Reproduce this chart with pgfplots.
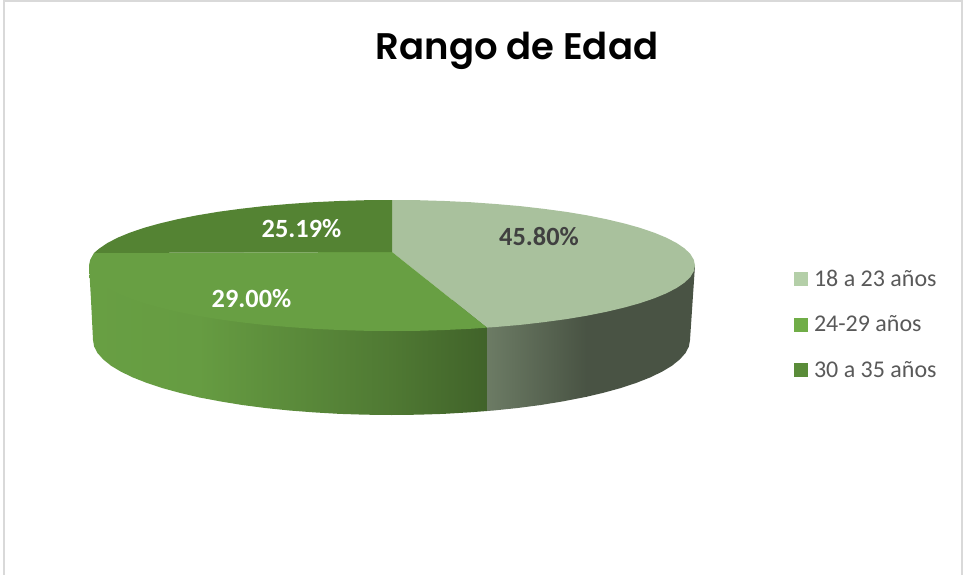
\documentclass[border=0pt]{standalone}
\usepackage{fontspec}
\setmainfont{Carlito}
\newfontfamily\titlefont{Poppins SemiBold}
\usepackage{pgfplots}
\pgfplotsset{compat=1.18}
\definecolor{lighttop}{HTML}{A9C19D}
\definecolor{midtop}{HTML}{689F43}
\definecolor{darktop}{HTML}{548333}
\definecolor{leglight}{HTML}{B4CFA8}
\definecolor{legmid}{HTML}{70AD47}
\definecolor{legdark}{HTML}{5A8C39}
\definecolor{framegray}{HTML}{D9D9D9}

\begin{document}
\begin{tikzpicture}
\begin{axis}[
  scale only axis, width=963pt, height=575pt,
  xmin=0, xmax=963, ymin=0, ymax=575, y dir=reverse,
  axis lines=none, clip=true,
  legend cell align=left,
  legend image code/.code={\fill[#1, draw=none] (0pt,-7pt) rectangle (14pt,7pt); \path[draw=none, fill=none] (0pt,0pt) -- (20pt,0pt);},
  legend style={at={(axis cs:794,270)}, anchor=north west, draw=none, fill=none,
    font=\fontsize{24}{26}\selectfont, text=black!65, row sep=28pt,
    inner sep=0pt, outer sep=0pt,
    nodes={inner sep=0pt, anchor=west}},
]
% chart frame (no line along the bottom)
\addplot[framegray, line width=2pt, forget plot] coordinates {(3.5,575) (3.5,1.5) (962,1.5) (962,575)};

% side walls, lying under the top faces
\addplot[draw=none, shade, left color=black!0!midtop, right color=black!2!midtop, forget plot] coordinates {
  (89,265.5) (91,300) (93,340) (94.1,346.5) (97.5,353) (103.2,359.4) (111,365.7) (121,371.7) (133,377.5)
  (147,383) (162.8,388.2) (180.4,393) (200,397.6) (200,300)};
\addplot[draw=none, shade, left color=black!2!midtop, right color=black!24!midtop, forget plot] coordinates {
  (199.6,397.5) (220.3,401.4) (242.2,405) (265.3,408) (289.4,410.5) (314.2,412.4) (339.7,413.9) (365.5,414.7)
  (392,415) (392,300) (199.6,300)};
\addplot[draw=none, shade, left color=black!24!midtop, right color=black!38!midtop, forget plot] coordinates {
  (391.5,415) (417.5,414.7) (443.3,413.9) (468.8,412.4) (487,411) (487,300) (391.5,300)};
\addplot[draw=none, shade, left color=lighttop!64!black, right color=lighttop!43!black, forget plot] coordinates {
  (487,411) (493.6,410.5) (517.7,408) (540.8,405) (562.7,401.4) (587,396.7) (587,300) (487,300)};
\addplot[draw=none, fill=lighttop!43!black, forget plot] coordinates {
  (586.8,396.7) (602.6,393) (620.2,388.2) (636,383) (650,377.5) (662,371.7) (672,365.7) (679.8,359.4) (685.5,353)
  (688.9,346.5) (690,340) (695,265.5) (586.8,265.5)};

% top faces
\addplot[draw=none, fill=lighttop, forget plot] coordinates {
  (392,252) (392,200) (418.4,200.2) (444.6,201) (470.4,202.2) (495.6,204) (520.1,206.1) (543.5,208.8) (565.8,211.8)
  (586.8,215.3) (606.3,219.2) (624.1,223.4) (640.2,227.9) (654.4,232.75) (666.6,237.8) (676.7,243.1) (684.7,248.5)
  (690.4,254.1) (693.8,259.8) (695,265.5) (693.8,271.2) (690.4,276.9) (684.7,282.5) (676.7,287.9) (666.6,293.2)
  (654.4,298.25) (640.2,303.1) (624.1,307.6) (606.3,311.8) (586.8,315.7) (565.8,319.2) (543.5,322.2) (520.1,324.9)
  (495.6,327) (487,327.6)};
\addplot[draw=none, fill=midtop, forget plot] coordinates {
  (392,252) (487,327.6) (470.4,328.8) (444.6,330) (418.4,330.8) (392,331) (365.6,330.8) (339.4,330) (313.6,328.8)
  (288.4,327) (263.9,324.9) (240.5,322.2) (218.2,319.2) (197.2,315.7) (177.7,311.8) (159.9,307.6) (143.8,303.1)
  (129.6,298.25) (117.4,293.2) (107.3,287.9) (99.3,282.5) (93.6,276.9) (90.2,271.2) (89,265.5) (90.2,259.8) (94,253)};
\addplot[draw=none, fill=darktop, forget plot] coordinates {
  (392,252) (94,253) (99.3,248.5) (107.3,243.1) (117.4,237.8) (129.6,232.75) (143.8,227.9) (159.9,223.4) (177.7,219.2)
  (197.2,215.3) (218.2,211.8) (240.5,208.8) (263.9,206.1) (288.4,204) (313.6,202.2) (339.4,201) (365.6,200.2) (392,200)};

% legend
\addlegendimage{fill=leglight}
\addlegendentry{18 a 23 años}
\addlegendimage{fill=legmid}
\addlegendentry{24-29 años}
\addlegendimage{fill=legdark}
\addlegendentry{30 a 35 años}

% labels
\node[font=\titlefont\fontsize{37}{40}\selectfont, text=black] at (axis cs:517,51) {Rango de Edad};
\node[font=\bfseries\fontsize{26.3}{28}\selectfont, text=white] at (axis cs:301.5,229) {25.19\%};
\node[font=\bfseries\fontsize{26.3}{28}\selectfont, text=black!75] at (axis cs:539,237) {45.80\%};
\node[font=\bfseries\fontsize{26.3}{28}\selectfont, text=white] at (axis cs:251.5,299) {29.00\%};
\end{axis}
\pgfresetboundingbox
\path (0pt,0pt) rectangle (963pt,575pt);
\end{tikzpicture}
\end{document}
